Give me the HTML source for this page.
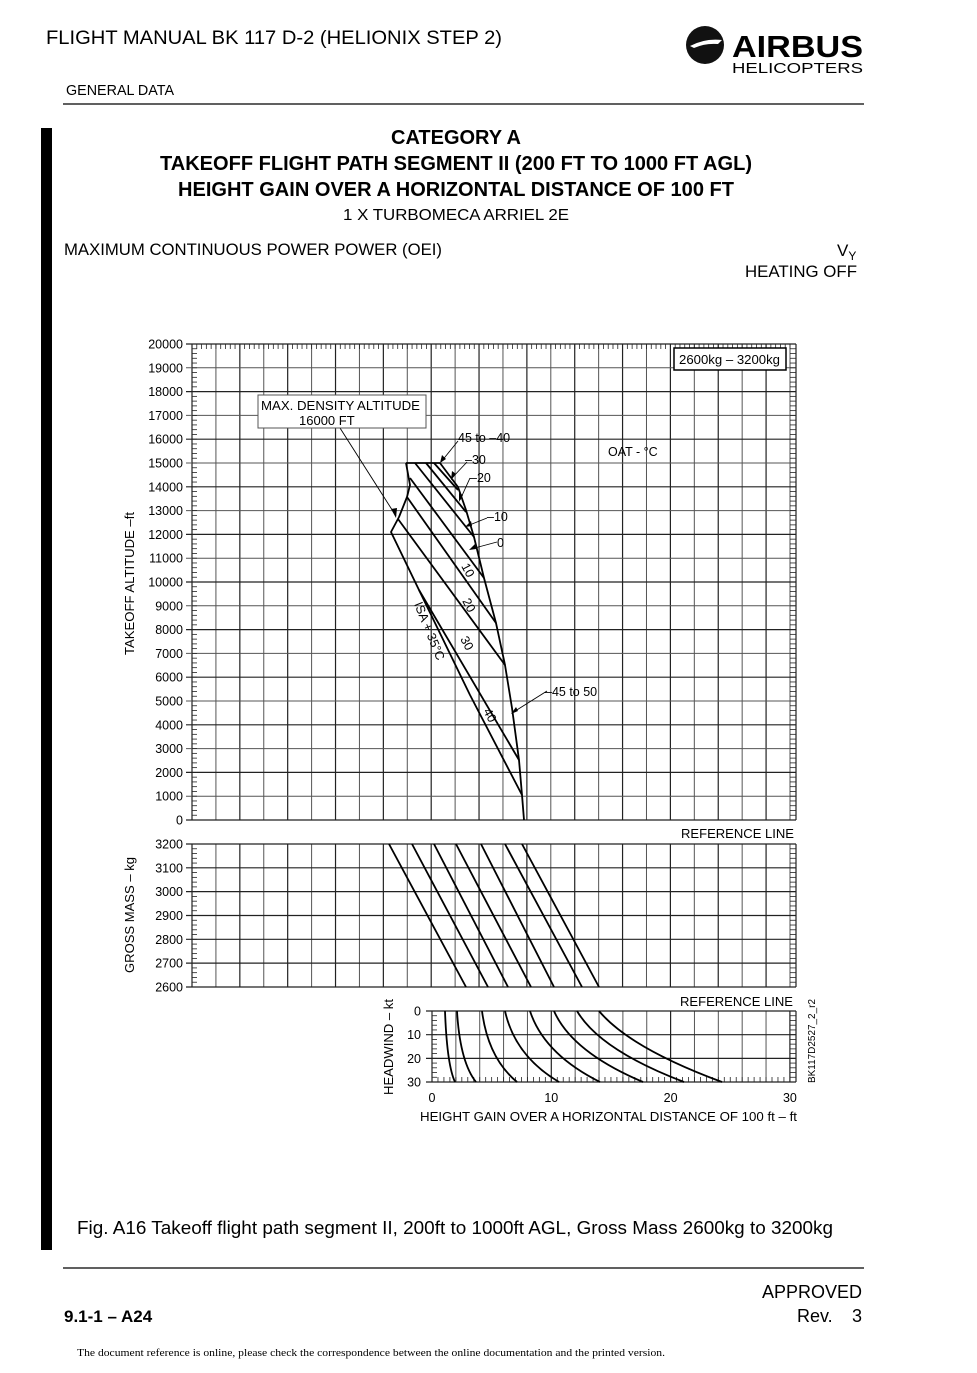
<!DOCTYPE html>
<html><head><meta charset="utf-8"><style>
html,body{margin:0;padding:0;background:#fff;}
svg{display:block;font-family:"Liberation Sans",sans-serif;}
</style></head><body>
<svg id="s" width="977" height="1373" viewBox="0 0 977 1373" xmlns="http://www.w3.org/2000/svg">
<rect width="977" height="1373" fill="#fff"/>
<!-- header -->
<text x="46" y="44" font-size="19.5" textLength="456" lengthAdjust="spacingAndGlyphs">FLIGHT MANUAL  BK 117 D-2 (HELIONIX STEP 2)</text>
<circle cx="705" cy="45" r="19" fill="#111"/>
<path d="M690 46 Q705 38 722 40 L718 44 Q705 43 694 48 Z" fill="#fff"/>
<text x="732" y="57" font-size="31" font-weight="bold" textLength="131" lengthAdjust="spacingAndGlyphs">AIRBUS</text>
<text x="732" y="73" font-size="15" textLength="131" lengthAdjust="spacingAndGlyphs">HELICOPTERS</text>
<text x="66" y="95" font-size="14.5" textLength="108" lengthAdjust="spacingAndGlyphs">GENERAL DATA</text>
<line x1="63" y1="104" x2="864" y2="104" stroke="#000" stroke-width="1.3"/>
<rect x="41" y="128" width="11" height="1122" fill="#000"/>
<!-- titles -->
<g font-weight="bold" font-size="20" text-anchor="middle">
<text x="456" y="144" textLength="130" lengthAdjust="spacingAndGlyphs">CATEGORY A</text>
<text x="456" y="170" textLength="592" lengthAdjust="spacingAndGlyphs">TAKEOFF FLIGHT PATH SEGMENT II (200 FT TO 1000 FT AGL)</text>
<text x="456" y="196" textLength="556" lengthAdjust="spacingAndGlyphs">HEIGHT GAIN OVER A HORIZONTAL DISTANCE OF 100 FT</text>
</g>
<text x="456" y="220" font-size="15.5" text-anchor="middle" textLength="226" lengthAdjust="spacingAndGlyphs">1 X TURBOMECA ARRIEL 2E</text>
<text x="64" y="255" font-size="16.5" textLength="378" lengthAdjust="spacingAndGlyphs">MAXIMUM CONTINUOUS POWER POWER (OEI)</text>
<text x="837" y="256" font-size="17">V<tspan font-size="12" dy="4">Y</tspan></text>
<text x="745" y="277" font-size="16.5" textLength="112" lengthAdjust="spacingAndGlyphs">HEATING OFF</text>

<g id="grid" stroke="#333" stroke-width="1" fill="none"></g>
<g id="ticks" stroke="#222" stroke-width="0.8" fill="none"></g>
<g id="labels" font-size="12.5" fill="#000"></g>

<!-- top chart curves -->
<g stroke="#000" stroke-width="1.8" fill="none" stroke-linejoin="round">
<path d="M406 463 L440 463"/>
<path d="M406 463 L410 485 L407 497 L399 517 L391 532 L419 590 L470 695 L522 795 L524 820"/>
<path d="M440 463 L458 487 L466 510 L474 537 L484 578 L496 623 L505 665 L512 708 L519 760 L522 795"/>
<path d="M419 590 L519 760"/>
<path d="M398 519 L505 665"/>
<path d="M407 497 L496 623"/>
<path d="M410 478 L484 578"/>
<path d="M415 463 L474 537"/>
<path d="M426 463 L466 512"/>
<path d="M434 463 L458 490"/>
</g>
<g stroke="#000" stroke-width="0.9" fill="none">
<path d="M340 428 L396 516"/>
<path d="M458 441 L441 462"/>
<path d="M467 462 L452 478"/>
<path d="M470 478 L460 500"/>
<path d="M487 518 L467 526"/>
<path d="M497 542 L471 549"/>
<path d="M547 691 L512 713"/>
</g>
<g fill="#000">
<path d="M396 518 L391 509 L397 508 Z"/>
<path d="M440 463 L442 455 L446 459 Z"/>
<path d="M451 480 L452 471 L456 474 Z"/>
<path d="M459 502 L459 493 L463 495 Z"/>
<path d="M465 527 L471 521 L472 526 Z"/>
<path d="M469 550 L475 544 L476 549 Z"/>
<path d="M511 714 L516 707 L518 711 Z"/>
</g>
<rect x="258" y="395" width="168" height="33" fill="#fff" stroke="#555" stroke-width="1"/>
<text x="261" y="410" font-size="13" textLength="159" lengthAdjust="spacingAndGlyphs">MAX. DENSITY ALTITUDE</text>
<text x="299" y="425" font-size="13">16000 FT</text>
<rect x="674" y="348" width="112" height="22" fill="#fff" stroke="#000" stroke-width="1.5"/>
<text x="679" y="364" font-size="12.5" textLength="101" lengthAdjust="spacingAndGlyphs">2600kg – 3200kg</text>
<g font-size="12.5">
<text x="458" y="442">45 to –40</text>
<text x="465" y="464">–30</text>
<text x="470" y="482">–20</text>
<text x="487" y="521">–10</text>
<text x="497" y="547">0</text>
<text x="608" y="456">OAT - °C</text>
<text x="545" y="696">–45 to 50</text>
<text transform="translate(461,566) rotate(62)">10</text>
<text transform="translate(462,601) rotate(62)">20</text>
<text transform="translate(460,639) rotate(62)">30</text>
<text transform="translate(483,711) rotate(62)">40</text>
<text transform="translate(414,604) rotate(68)">ISA + 35°C</text>
</g>

<!-- middle chart lines -->
<g stroke="#000" stroke-width="1.8" fill="none">
<path d="M389 844 L466 987"/>
<path d="M412 844 L488 987"/>
<path d="M434 844 L508 987"/>
<path d="M456 844 L531 987"/>
<path d="M481 844 L554 987"/>
<path d="M505 844 L582 987"/>
<path d="M522 844 L599 987"/>
</g>
<!-- bottom chart curves -->
<g stroke="#000" stroke-width="1.8" fill="none">
<path d="M445 1011 Q447 1065 455 1082"/>
<path d="M457 1011 Q460 1062 476 1082"/>
<path d="M482 1011 Q488 1058 517 1082"/>
<path d="M505 1011 Q515 1056 559 1082"/>
<path d="M530 1011 Q544 1054 600 1082"/>
<path d="M554 1011 Q572 1052 643 1082"/>
<path d="M577 1011 Q600 1050 684 1082"/>
<path d="M599 1011 Q630 1048 722 1082"/>
</g>

<g font-size="12.5">
<text x="681" y="838" textLength="113" lengthAdjust="spacingAndGlyphs">REFERENCE LINE</text>
<text x="680" y="1006" textLength="113" lengthAdjust="spacingAndGlyphs">REFERENCE LINE</text>
<text transform="translate(134,655) rotate(-90)" textLength="143" lengthAdjust="spacingAndGlyphs">TAKEOFF ALTITUDE –ft</text>
<text transform="translate(134,973) rotate(-90)" textLength="116" lengthAdjust="spacingAndGlyphs">GROSS MASS – kg</text>
<text transform="translate(393,1095) rotate(-90)" textLength="96" lengthAdjust="spacingAndGlyphs">HEADWIND – kt</text>
<text transform="translate(815,1083) rotate(-90)" font-size="10" textLength="84" lengthAdjust="spacingAndGlyphs">BK117D2527_2_r2</text>
<text x="420" y="1121" textLength="377" lengthAdjust="spacingAndGlyphs">HEIGHT GAIN OVER A HORIZONTAL DISTANCE OF 100 ft  – ft</text>
</g>

<text x="77" y="1234" font-size="18" textLength="756" lengthAdjust="spacingAndGlyphs">Fig. A16    Takeoff flight path segment II, 200ft to 1000ft AGL, Gross Mass 2600kg to 3200kg</text>
<line x1="63" y1="1268" x2="864" y2="1268" stroke="#000" stroke-width="1.3"/>
<text x="862" y="1298" font-size="18" text-anchor="end">APPROVED</text>
<text x="797" y="1322" font-size="18">Rev.</text>
<text x="862" y="1322" font-size="18" text-anchor="end">3</text>
<text x="64" y="1322" font-size="17" font-weight="bold">9.1-1 – A24</text>
<text x="77" y="1356" font-size="10.5" font-family="Liberation Serif,serif" textLength="588" lengthAdjust="spacingAndGlyphs">The document reference is online, please check the correspondence between the online documentation and the printed version.</text>
</svg>
<script>
(function(){
var NS="http://www.w3.org/2000/svg";
var g=document.getElementById('grid'),t=document.getElementById('ticks'),lb=document.getElementById('labels');
function L(p,x1,y1,x2,y2,w,c){var l=document.createElementNS(NS,'line');l.setAttribute('x1',x1);l.setAttribute('y1',y1);l.setAttribute('x2',x2);l.setAttribute('y2',y2);if(w)l.setAttribute('stroke-width',w);if(c)l.setAttribute('stroke',c);p.appendChild(l);}
function T(x,y,s,anc){var e=document.createElementNS(NS,'text');e.setAttribute('x',x);e.setAttribute('y',y);if(anc)e.setAttribute('text-anchor',anc);e.textContent=s;lb.appendChild(e);}
var X0=192,DX=23.92,XR=790;
// top chart
var Y0=820,DY=23.8;
for(var i=0;i<=25;i++){var x=X0+DX*i;L(g,x,344,x,820,i%2?1:1.2,i%2?'#555':'#222');}
L(g,796,344,796,820,1.2,'#222');
for(var j=0;j<=20;j++){var y=Y0-DY*j;L(g,186,y,796,y,j%2?1:1.2,j%2?'#555':'#222');T(183,y+4.5,String(j*1000),'end');}
for(var k=0;k<=100;k++){var y=Y0-DY*k/5;L(t,192,y,197,y);L(t,790,y,796,y);}
for(var k=0;k<=125;k++){var x=X0+DX*k/5;L(t,x,344,x,349);}
// middle chart
var M0=844,MD=23.83;
for(var i=0;i<=25;i++){var x=X0+DX*i;L(g,x,844,x,987,i%2?1:1.2,i%2?'#555':'#222');}
L(g,796,844,796,987,1.2,'#222');
for(var j=0;j<=6;j++){var y=M0+MD*j;L(g,186,y,796,y,1.2,'#222');T(183,y+4.5,String(3200-j*100),'end');}
for(var k=0;k<=30;k++){var y=M0+MD*k/5;L(t,192,y,197,y);L(t,790,y,796,y);}
// bottom chart
var B0=1011,BD=23.67,BX=432,BU=11.93;
for(var i=0;i<=15;i++){var x=BX+BU*2*i;L(g,x,1011,x,1082,i%5?1:1.2,i%5?'#555':'#222');}
L(g,796,1011,796,1082,1.2,'#222');
for(var j=0;j<=3;j++){var y=B0+BD*j;L(g,426,y,796,y,1.2,'#222');T(421,y+4.5,String(j*10),'end');}
for(var k=0;k<=15;k++){var y=B0+BD*k/5;L(t,432,y,437,y);L(t,790,y,796,y);}
for(var k=0;k<=60;k++){var x=BX+BU*k/2;L(t,x,1077,x,1082);}
for(var k=0;k<=3;k++){T(BX+BU*10*k,1102,String(k*10),'middle');}
})();
</script>
</body></html>
